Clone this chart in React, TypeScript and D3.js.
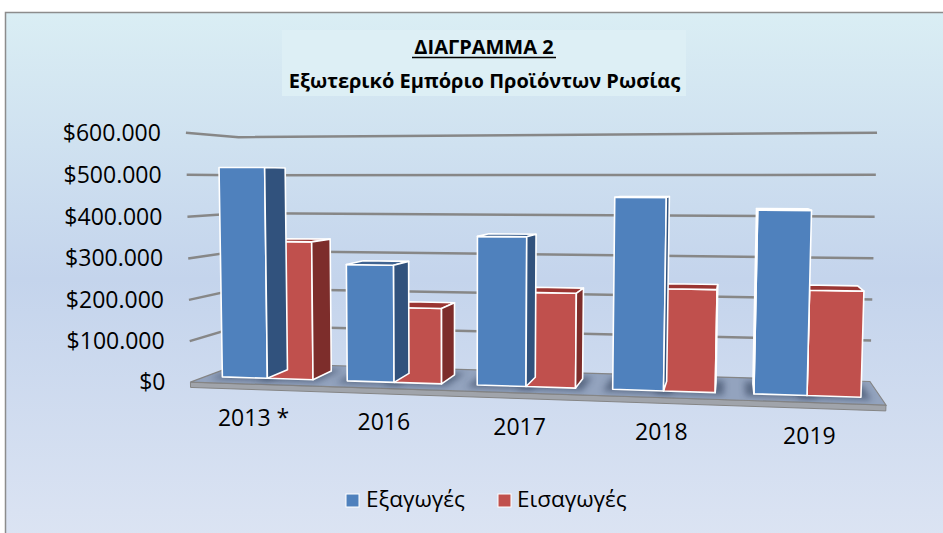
import React, { useMemo } from "react";
import * as d3 from "d3";

// ---------- data ----------
const categories = ["2013 *", "2016", "2017", "2018", "2019"];
const exportsValues = [518000, 284000, 355000, 448000, 420000];
const importsValues = [338000, 182000, 224000, 238000, 240000];
const seriesNames = ["Εξαγωγές", "Εισαγωγές"];
const yTickValues = [0, 100000, 200000, 300000, 400000, 500000, 600000];
const titleLines = ["ΔΙΑΓΡΑΜΜΑ 2", "Εξωτερικό Εμπόριο Προϊόντων Ρωσίας"];

// ---------- style ----------
const W = 943;
const H = 533;
const FONT = "'Open Sans', 'Noto Sans', 'DejaVu Sans', sans-serif";
const PALETTE = [
  { front: "#4F81BD", side: "#31527D", top: "#3F6391" },
  { front: "#C0504D", side: "#7D2D2B", top: "#9A3532" },
];

// Frame calibration of the 3D plot box: world (category units, value units, depth 0=front..1=back) -> screen px
const CALIBRATION: [number[], number[]][] = [
  [[0, 0, 1], [240, 364]],
  [[0, 6, 1], [240, 137]],
  [[5, 6, 1], [877, 133]],
  [[5, 0, 1], [870, 381]],
  [[0, 0, 0], [192, 382]],
  [[5, 0, 0], [886, 406]],
  [[0, 6, 0], [184, 133]],
  [[0, 1, 0], [190, 340]],
  [[5, 1, 1], [871, 340]],
  [[0, 4, 1], [240, 213]],
];

function solveLinear(Ain: number[][], bin: number[]): number[] {
  const n = bin.length;
  const A = Ain.map((r, i) => [...r, bin[i]]);
  for (let c = 0; c < n; c++) {
    let p = c;
    for (let r = c + 1; r < n; r++) if (Math.abs(A[r][c]) > Math.abs(A[p][c])) p = r;
    [A[c], A[p]] = [A[p], A[c]];
    for (let r = 0; r < n; r++) {
      if (r === c) continue;
      const f = A[r][c] / A[c][c];
      for (let k = c; k <= n; k++) A[r][k] -= f * A[c][k];
    }
  }
  return A.map((r, i) => r[n] / r[i]);
}

const NU = (u: number) => (u - 500) / 300;
const NV = (v: number) => (v - 270) / 300;

function fitProjection(cal: [number[], number[]][]) {
  const rows: number[][] = [];
  const rhs: number[] = [];
  cal.forEach(([[X, Y, Z], [u0, v0]]) => {
    const u = NU(u0), v = NV(v0);
    rows.push([X, Y, Z, 1, 0, 0, 0, 0, -u * X, -u * Y, -u * Z]);
    rhs.push(u);
    rows.push([0, 0, 0, 0, X, Y, Z, 1, -v * X, -v * Y, -v * Z]);
    rhs.push(v);
  });
  const n = 11;
  const ATA = Array.from({ length: n }, () => new Array(n).fill(0));
  const ATb = new Array(n).fill(0);
  rows.forEach((r, i) => {
    for (let a = 0; a < n; a++) {
      ATb[a] += r[a] * rhs[i];
      for (let b = 0; b < n; b++) ATA[a][b] += r[a] * r[b];
    }
  });
  const p = solveLinear(ATA, ATb);
  const P = [
    [p[0], p[1], p[2], p[3]],
    [p[4], p[5], p[6], p[7]],
    [p[8], p[9], p[10], 1],
  ];
  const project = (X: number, Y: number, Z: number): [number, number] => {
    const w = P[2][0] * X + P[2][1] * Y + P[2][2] * Z + P[2][3];
    const u = (P[0][0] * X + P[0][1] * Y + P[0][2] * Z + P[0][3]) / w;
    const v = (P[1][0] * X + P[1][1] * Y + P[1][2] * Z + P[1][3]) / w;
    return [u * 300 + 500, v * 300 + 270];
  };
  const M = P.map((r) => r.slice(0, 3));
  const cam = solveLinear(M, P.map((r) => -r[3]));
  return { project, cam };
}

const signedArea = (pts: [number, number][]) => {
  let s = 0;
  for (let i = 0; i < pts.length; i++) {
    const a = pts[i], b = pts[(i + 1) % pts.length];
    s += a[0] * b[1] - b[0] * a[1];
  }
  return s / 2;
};

const toPath = (pts: [number, number][]) =>
  "M" + pts.map((p) => p[0].toFixed(2) + "," + p[1].toFixed(2)).join("L") + "Z";

export default function App() {
  const model = useMemo(() => {
    const { project, cam } = fitProjection(CALIBRATION);
    const nCat = categories.length;
    const yScale = d3.scaleLinear().domain([0, 600000]).range([0, 6]);
    const xBand = d3.scaleBand<number>().domain(d3.range(nCat)).range([0, nCat]).paddingInner(0.27).paddingOuter(0.135);
    const xSub = d3.scaleBand<number>().domain([0, 1]).range([0, xBand.bandwidth()]);
    const zBar = [0.28, 0.72];
    const P = (x: number, y: number, z: number) => project(x, y, z);

    const fmt = d3.formatLocale({ decimal: ",", thousands: ".", grouping: [3], currency: ["$", ""] }).format("$,");

    const grid = yTickValues.filter((v) => v > 0).map((v) => {
      const y = yScale(v);
      return [P(0, y, 0), P(0, y, 1), P(nCat, y, 1)];
    });

    const t = 0.13;
    const floorTop: [number, number][] = [P(0, 0, 0), P(nCat, 0, 0), P(nCat, 0, 1), P(0, 0, 1)];
    const floorFront: [number, number][] = [P(0, -t, 0), P(nCat, -t, 0), P(nCat, 0, 0), P(0, 0, 0)];

    const seriesVals = [exportsValues, importsValues];
    type Bar = { key: string; faces: { d: string; fill: string }[]; dist: number; shadow: string };
    const bars: Bar[] = [];
    let frontSign = 0;
    seriesVals.forEach((vals, s) => {
      vals.forEach((v, i) => {
        const x0 = (xBand(i) as number) + (xSub(s) as number);
        const x1 = x0 + xSub.bandwidth();
        const y0 = 0, y1 = yScale(v);
        const [z0, z1] = zBar;
        const col = PALETTE[s];
        const faces: { pts: [number, number][]; fill: string; front?: boolean }[] = [
          { pts: [P(x0, y0, z0), P(x1, y0, z0), P(x1, y1, z0), P(x0, y1, z0)], fill: col.front, front: true },
          { pts: [P(x0, y1, z0), P(x1, y1, z0), P(x1, y1, z1), P(x0, y1, z1)], fill: col.top },
          { pts: [P(x1, y0, z0), P(x1, y0, z1), P(x1, y1, z1), P(x1, y1, z0)], fill: col.side },
          { pts: [P(x0, y0, z0), P(x0, y1, z0), P(x0, y1, z1), P(x0, y0, z1)], fill: col.side },
        ];
        if (!frontSign) frontSign = Math.sign(signedArea(faces[0].pts));
        const vis = faces.filter((f) => f.front || (Math.sign(signedArea(f.pts)) === frontSign && Math.abs(signedArea(f.pts)) > 0.5));
        const cx = (x0 + x1) / 2, cy = y1 / 2, cz = (z0 + z1) / 2;
        const dist = Math.hypot(cx - cam[0], cy - cam[1], cz - cam[2]);
        const e = 0.06, ez = 0.1;
        const shadow = toPath([P(x0 - e, 0, z0 - ez), P(x1 + e, 0, z0 - ez), P(x1 + e, 0, z1 + ez), P(x0 - e, 0, z1 + ez)]);
        bars.push({ key: `b${s}-${i}`, faces: vis.map((f) => ({ d: toPath(f.pts), fill: f.fill })), dist, shadow });
      });
    });
    bars.sort((a, b) => b.dist - a.dist);

    const yLabels = yTickValues.map((v) => {
      const [x, y] = P(0, yScale(v), 0);
      return { text: fmt(v), x: x - 25, y: y + 8 };
    });
    const xLabels = categories.map((c, i) => {
      const [x, y] = P((xBand(i) as number) + xBand.bandwidth() / 2, 0, 0);
      return { text: c, x, y: y + 42 };
    });

    return { grid, floorTop, floorFront, bars, yLabels, xLabels };
  }, []);

  return (
    <svg width={W} height={H} style={{ position: "absolute", left: 0, top: 0, display: "block" }} fontFamily={FONT}>
      <defs>
        <linearGradient id="bg" gradientUnits="userSpaceOnUse" x1="0" y1="12" x2="0" y2="545">
          <stop offset="0" stopColor="#DAEEF4" />
          <stop offset="0.5" stopColor="#C4D4EC" />
          <stop offset="1" stopColor="#DCE4F3" />
        </linearGradient>
        <filter id="blur" x="-20%" y="-50%" width="140%" height="200%">
          <feGaussianBlur stdDeviation="3" />
        </filter>
        <clipPath id="floorClip">
          <path d={toPath(model.floorTop)} />
        </clipPath>
      </defs>
      <rect x={0} y={0} width={W} height={H} fill="#FFFFFF" />
      <rect x={5.5} y={12.5} width={W + 20} height={H + 20} fill="url(#bg)" stroke="#8C8C8C" strokeWidth={1.5} />

      {/* title */}
      <rect x={282} y={30} width={404} height={66} fill="#DDEFF5" />
      <text x={484} y={54} textAnchor="middle" fontSize={20} fontWeight="bold" fill="#000">{titleLines[0]}</text>
      <line x1={412} x2={556} y1={57.5} y2={57.5} stroke="#000" strokeWidth={1.5} />
      <text x={484.5} y={88} textAnchor="middle" fontSize={20} fontWeight="bold" fill="#000">{titleLines[1]}</text>

      {/* gridlines on walls */}
      {model.grid.map((g, i) => (
        <polyline key={i} points={g.map((p) => p.join(",")).join(" ")} fill="none" stroke="#878787" strokeWidth={2.5} />
      ))}

      {/* floor */}
      <path d={toPath(model.floorFront)} fill="#A0A4AB" stroke="#858585" strokeWidth={1} />
      <path d={toPath(model.floorTop)} fill="#93A3BE" stroke="#858585" strokeWidth={1.2} />
      <g clipPath="url(#floorClip)">
        {model.bars.map((b) => (
          <path key={b.key + "s"} d={b.shadow} fill="#34445F" opacity={0.6} filter="url(#blur)" />
        ))}
      </g>

      {/* bars */}
      {model.bars.map((b) => (
        <g key={b.key}>
          {b.faces.map((f, j) => (
            <path key={j} d={f.d} fill={f.fill} stroke="#FFFFFF" strokeWidth={1.6} strokeLinejoin="round" />
          ))}
        </g>
      ))}

      {/* axis labels */}
      {model.yLabels.map((l) => (
        <text key={l.text} x={l.x} y={l.y} textAnchor="end" fontSize={23} fill="#000">{l.text}</text>
      ))}
      {model.xLabels.map((l) => (
        <text key={l.text} x={l.x} y={l.y} textAnchor="middle" fontSize={23} fill="#000">{l.text}</text>
      ))}

      {/* legend */}
      <rect x={346} y={494} width={13} height={13} fill={PALETTE[0].front} stroke="#FFFFFF" strokeWidth={1} />
      <text x={366} y={507} fontSize={22.5} fill="#000">{seriesNames[0]}</text>
      <rect x={498} y={494} width={13} height={13} fill={PALETTE[1].front} stroke="#FFFFFF" strokeWidth={1} />
      <text x={517} y={507} fontSize={22.5} fill="#000">{seriesNames[1]}</text>
    </svg>
  );
}
